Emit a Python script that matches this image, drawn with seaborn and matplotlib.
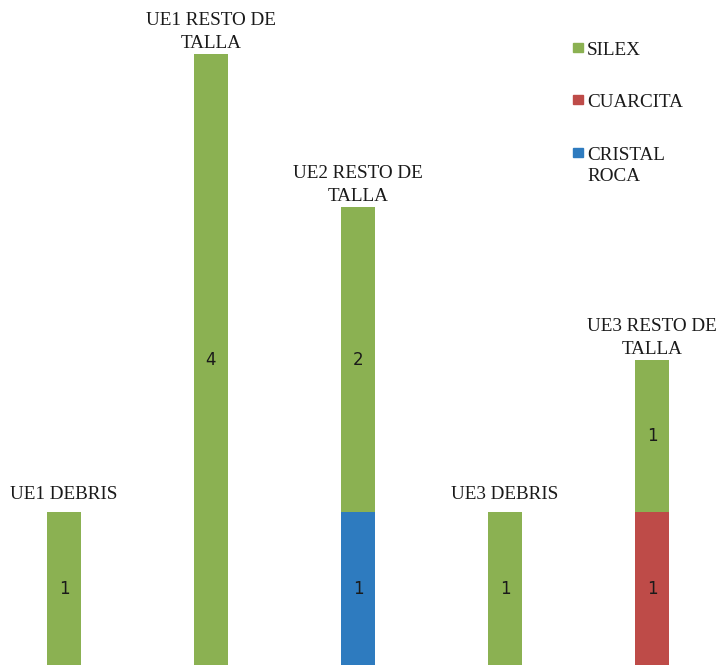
import numpy as np
import pandas as pd
import matplotlib
matplotlib.use("Agg")
import matplotlib.pyplot as plt
from matplotlib.patches import Rectangle
import seaborn as sns

categories = ["UE1 DEBRIS", "UE1 RESTO DE\nTALLA", "UE2 RESTO DE\nTALLA", "UE3 DEBRIS", "UE3 RESTO DE\nTALLA"]
materials = ["SILEX", "CUARCITA", "CRISTAL ROCA"]
silex = [1, 4, 2, 1, 1]
cuarcita = [0, 0, 0, 0, 1]
cristal_roca = [0, 0, 1, 0, 0]
colors = {"SILEX": "#8BB152", "CUARCITA": "#BE4B48", "CRISTAL ROCA": "#2E7BBF"}

rows = []
for i, cat in enumerate(categories):
    for mat, vals in zip(materials, [silex, cuarcita, cristal_roca]):
        rows.append({"pos": i, "material": mat, "count": vals[i]})
df = pd.DataFrame(rows)

sns.set_theme(style="white")
fig = plt.figure(figsize=(7.17, 6.65), dpi=100)
ax = fig.add_axes([0, 0, 1, 1])

sns.histplot(data=df, x="pos", weights="count", hue="material",
             hue_order=materials, palette=colors, multiple="stack",
             discrete=True, shrink=0.231, alpha=1, linewidth=0,
             legend=False, ax=ax)

ax.set_xlim(-0.435, 4.442)
ax.set_ylim(0, 4.355)
ax.axis("off")

# value labels at the middle of each segment (bottom layers first)
stack_order = [("CRISTAL ROCA", cristal_roca), ("CUARCITA", cuarcita), ("SILEX", silex)]
for i in range(len(categories)):
    base = 0
    for mat, vals in stack_order:
        v = vals[i]
        if v > 0:
            ax.text(i, base + v / 2, str(v), ha="center", va="center",
                    fontsize=12, color="#1a1a1a", family="DejaVu Sans")
            base += v
    lift = 1.5 if "\n" in categories[i] else 6.5
    ax.annotate(categories[i], xy=(i, base), xytext=(0, lift), textcoords="offset points",
                ha="center", va="bottom", fontsize=13.8, family="Liberation Serif",
                color="#1a1a1a", linespacing=1.45)

# legend: colour squares with labels
legend_items = [("SILEX", 50), ("CUARCITA", 102), ("CRISTAL\nROCA", 155)]
W, H = 717, 665
for (label, ypix), mat in zip(legend_items, materials):
    fig.patches.append(Rectangle((573 / W, 1 - (ypix + 2) / H), 10 / W, 9 / H,
                                 transform=fig.transFigure, color=colors[mat]))
    fig.text(587 / W, 1 - (ypix - 8) / H, label, ha="left", va="top",
             fontsize=13.8, family="Liberation Serif", color="#1a1a1a", linespacing=1.3)

fig.savefig("out.png", dpi=100)
